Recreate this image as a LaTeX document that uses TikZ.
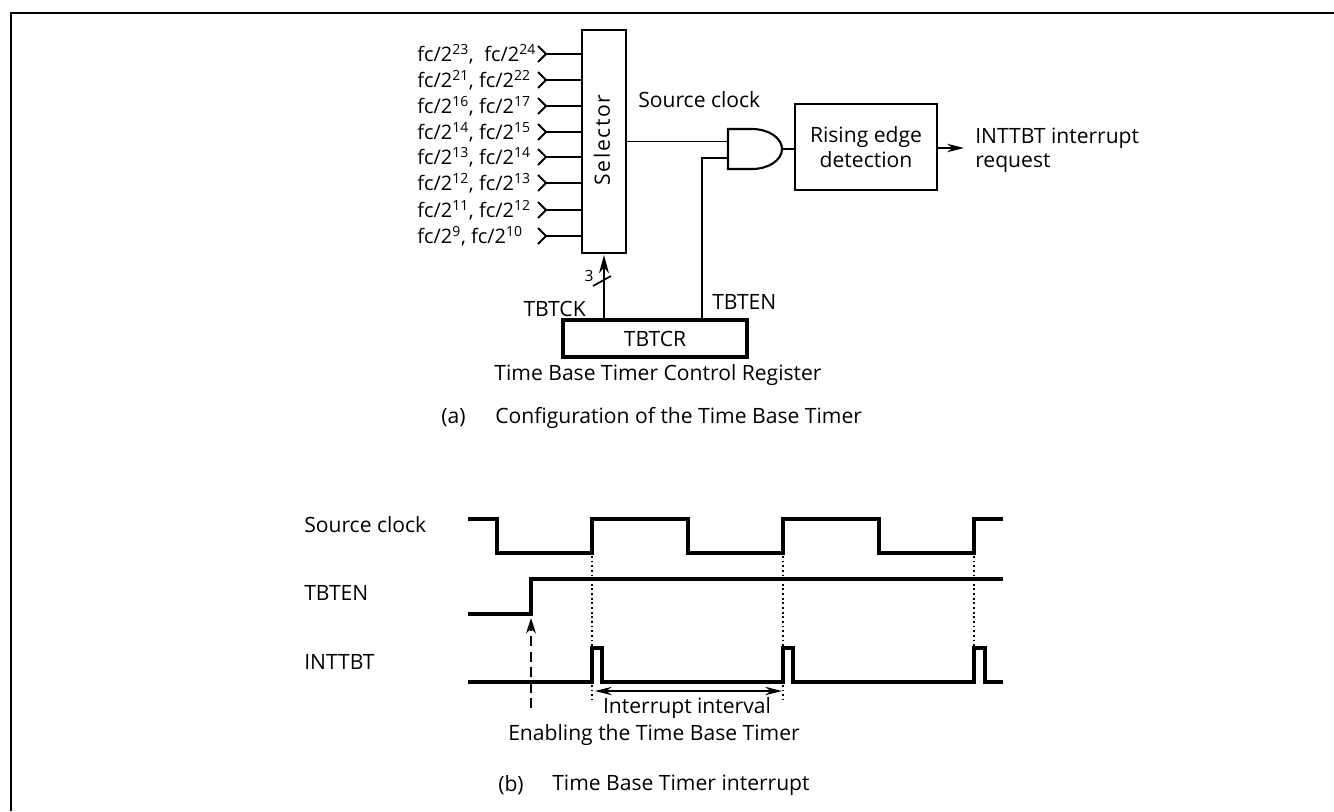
\documentclass[tikz,border=0pt]{standalone}
\usepackage{fontspec}
\setmainfont{Open Sans}
\usetikzlibrary{positioning,arrows.meta}
\newcommand{\fcpow}[1]{fc/2\textsuperscript{#1}}
\tikzset{
  lbl/.style={font=\fontsize{15}{18}\selectfont,inner sep=0pt},
  wire/.style={line width=1.3pt},
  wave/.style={line width=2.4pt,line join=miter},
  guide/.style={line width=1.3pt,dotted},
}
\begin{document}
\begin{tikzpicture}[x=0.025cm,y=-0.025cm,>=stealth]
  \useasboundingbox (0,0) rectangle (1334,811);
  \draw[line width=1.6pt] (1334,13)--(11,13)--(11,811);
  % configuration
  \node[draw,line width=1.5pt,minimum width=1.1cm,minimum height=5.575cm,inner sep=0pt] (selector) at (604,141.5) {};
  \node[lbl,rotate=90] (selectorlbl) at (602,140) {\addfontfeature{LetterSpace=8}Selector};
  \foreach \row/\ypos/\txt in {
    a/54/{\fcpow{23},\ \ \fcpow{24}},
    b/80/{\fcpow{21}, \fcpow{22}},
    c/106/{\fcpow{16}, \fcpow{17}},
    d/132/{\fcpow{14}, \fcpow{15}},
    e/157/{\fcpow{13}, \fcpow{14}},
    f/183/{\fcpow{12}, \fcpow{13}},
    g/210/{\fcpow{11}, \fcpow{12}},
    h/236/{\fcpow{9}, \fcpow{10}}} {
    \node[lbl,anchor=west,font=\fontsize{14.2}{17}\selectfont] (in\row) at (417,\ypos) {\txt};
    \coordinate (tip\row) at (546,\ypos);
    \draw[wire] (tip\row)--(tip\row-|selector.west);
    \draw[wire] (538,\ypos-8)--(tip\row)--(538,\ypos+8);
  }
  \coordinate (andtop) at (728,141.5);
  \coordinate (andlow) at (728,158);
  \coordinate (andout) at (782,149);
  \draw[line width=1.5pt] (728,129)--(752,129) arc[start angle=-90,end angle=90,x radius=30,y radius=20]--(728,169)--cycle;
  \node[draw,line width=1.5pt,minimum width=3.55cm,minimum height=2.15cm,align=center,font=\fontsize{15}{17.8}\selectfont,inner sep=0pt] (edge) at (866,147) {Rising edge\\detection};
  \node[draw,line width=2.2pt,minimum width=4.6cm,minimum height=0.925cm,inner sep=0pt,font=\fontsize{15}{18}\selectfont] (tbtcr) at (655,338.5) {TBTCR};
  \coordinate (clkin) at (604,255);
  \coordinate (enup) at (702,158);
  \coordinate (reqtip) at (964,148);
  \coordinate (slasha) at (593,286);
  \coordinate (slashb) at (611,276);
  \draw[wire] (selector.east)--(andtop);
  \draw[wire] (andout)--(edge.west|-andout);
  \draw[wire] (tbtcr.north-|enup)--(enup)--(andlow);
  \draw[wire,-{Stealth[length=13pt,width=7pt]}] (tbtcr.north-|clkin)--(clkin);
  \draw[line width=1.2pt] (slasha)--(slashb);
  \draw[wire,-{Stealth[length=12pt,width=6pt]}] (edge.east|-reqtip)--(reqtip);
  \node[lbl,anchor=west] (srcclk) at (638,100) {Source clock};
  \node[lbl,anchor=west,align=left,font=\fontsize{15}{17}\selectfont] (req) at (975,150) {INTTBT interrupt\\request};
  \node[lbl] (three) at (589,276) {\fontsize{11}{12}\selectfont 3};
  \node[lbl,anchor=east] (tbtck) at (586,309) {TBTCK};
  \node[lbl,anchor=west] (tbten) at (712,302) {TBTEN};
  \node[lbl] (tbtname) at (658,375) {Time Base Timer Control Register};
  \node[lbl,anchor=west] (capa) at (441,418) {(a)};
  \node[lbl,anchor=west] (capatxt) at (495,418) {Configuration of the Time Base Timer};
  % timing
  \node[lbl,anchor=west] (srcname) at (304,525) {Source clock};
  \node[lbl,anchor=west] (enname) at (304,593) {TBTEN};
  \node[lbl,anchor=west] (intname) at (304,662) {INTTBT};
  \draw[wave] (468,519)-|(497,553)-|(592,519)-|(688,553)-|(783,519)-|(879,553)-|(974,519)--(1003,519);
  \draw[wave] (468,614)-|(531,579)--(1003,579);
  \draw[wave] (468,682)-|(592,648)-|(602,682)-|(783,648)-|(793,682)-|(974,648)-|(985,682)--(1003,682);
  \foreach \xpos in {592,783,974} {
    \draw[guide] (\xpos,556)--(\xpos,646);
  }
  \foreach \xpos in {592,783} {
    \draw[guide] (\xpos,685)--(\xpos,700);
  }
  \coordinate (enfoot) at (531,708);
  \coordinate (enhead) at (531,618);
  \draw[wire,dash pattern=on 7pt off 4pt,-{Stealth[length=11pt,width=7pt]}] (enfoot)--(enhead);
  \coordinate (ivstart) at (595,691);
  \coordinate (ivend) at (782,691);
  \draw[line width=0.9pt,{Stealth[length=12pt,width=6pt]}-{Stealth[length=12pt,width=6pt]}] (ivstart)--(ivend);
  \node[lbl] (interval) at (687,708) {Interrupt interval};
  \node[lbl] (enabling) at (654,735) {Enabling the Time Base Timer};
  \node[lbl,anchor=west] (capb) at (498,785) {(b)};
  \node[lbl,anchor=west] (capbtxt) at (552,785) {Time Base Timer interrupt};
\end{tikzpicture}
\end{document}
